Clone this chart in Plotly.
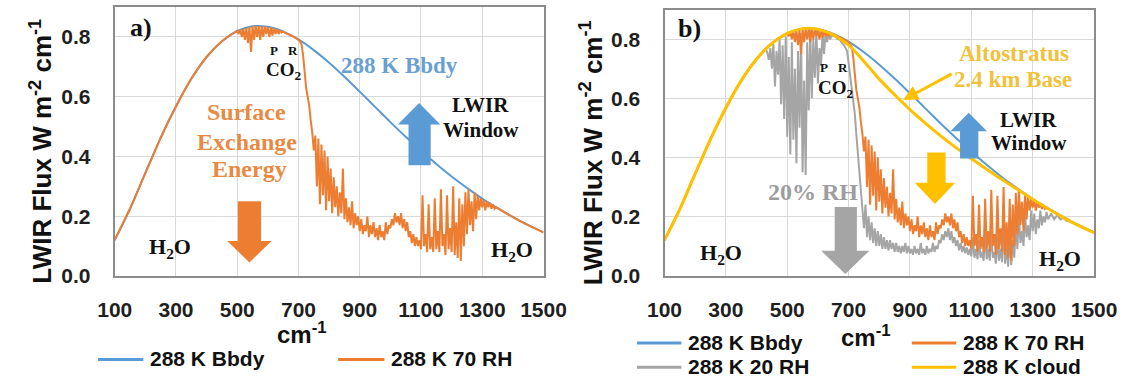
import plotly.graph_objects as go

# ---------------- data ----------------
bbdy_wn = [100, 150, 200, 250, 300, 350, 400, 450, 500, 550, 600, 650, 700, 750, 800,
           850, 900, 950, 1000, 1050, 1100, 1150, 1200, 1250, 1300, 1350, 1400, 1450, 1500]
bbdy_flux = [0.120, 0.225, 0.345, 0.462, 0.568, 0.660, 0.733, 0.786, 0.820, 0.836, 0.834, 0.818,
             0.792, 0.756, 0.714, 0.667, 0.617, 0.566, 0.515, 0.466, 0.420, 0.375, 0.333, 0.295,
             0.259, 0.227, 0.197, 0.170, 0.146]

cloud_wn = bbdy_wn
cloud_flux = [0.120, 0.225, 0.345, 0.462, 0.568, 0.660, 0.733, 0.786, 0.820, 0.836, 0.834, 0.815,
              0.780, 0.725, 0.665, 0.612, 0.562, 0.516, 0.473, 0.433, 0.396, 0.360, 0.325, 0.292,
              0.258, 0.226, 0.196, 0.169, 0.145]

wn_70rh = [
    100, 125, 150, 175, 200, 225, 250, 275, 300, 325,
    350, 375, 400, 425, 450, 475,
    500, 505, 510, 515, 520, 525, 530, 535, 540, 545,
    550, 555, 560, 565, 570, 575, 580, 585, 590, 595,
    600, 605, 610, 615, 620, 625, 630, 635, 640, 645,
    650, 655, 660, 665, 670, 675, 680, 685, 690, 695,
    700, 705, 710, 715, 720, 725, 730, 735, 740, 745,
    750, 755, 760, 765, 770, 775, 780, 785, 790, 795,
    800, 805, 810, 815, 820, 825, 830, 835, 840, 845,
    850, 855, 860, 865, 870, 875, 880, 885, 890, 895,
    900, 905, 910, 915, 920, 925, 930, 935, 940, 945,
    950, 955, 960, 965, 970, 975, 980, 985, 990, 995,
    1000, 1005, 1010, 1015, 1020, 1025, 1030, 1035, 1040, 1045,
    1050, 1055, 1060, 1065, 1070, 1075, 1080, 1085, 1090, 1095,
    1100, 1105, 1110, 1115, 1120, 1125, 1130, 1135, 1140, 1145,
    1150, 1155, 1160, 1165, 1170, 1175, 1180, 1185, 1190, 1195,
    1200, 1205, 1210, 1215, 1220, 1225, 1230, 1235, 1240, 1245,
    1250, 1255, 1260, 1265, 1270, 1275, 1280, 1285, 1290, 1295,
    1300, 1305, 1310, 1315, 1320, 1325, 1330, 1335, 1340, 1345,
    1350, 1375, 1400, 1425, 1450, 1475, 1500]
flux_70rh = [
    0.120, 0.170, 0.225, 0.285, 0.345, 0.404, 0.462, 0.517, 0.568, 0.616,
    0.660, 0.699, 0.733, 0.762, 0.786, 0.805,
    0.820, 0.810, 0.825, 0.800, 0.828, 0.790, 0.830, 0.780, 0.834, 0.750,
    0.836, 0.790, 0.837, 0.800, 0.837, 0.790, 0.836, 0.800, 0.835, 0.810,
    0.834, 0.800, 0.832, 0.805, 0.830, 0.810, 0.826, 0.810, 0.822, 0.815,
    0.818, 0.814, 0.812, 0.810, 0.808, 0.806, 0.803, 0.800, 0.797, 0.794,
    0.790, 0.785, 0.775, 0.740, 0.680, 0.630, 0.600, 0.570, 0.520, 0.480,
    0.420, 0.470, 0.300, 0.460, 0.240, 0.440, 0.270, 0.420, 0.220, 0.400,
    0.250, 0.360, 0.210, 0.330, 0.230, 0.300, 0.200, 0.280, 0.210, 0.360,
    0.190, 0.260, 0.180, 0.230, 0.170, 0.250, 0.160, 0.210, 0.170, 0.200,
    0.150, 0.190, 0.140, 0.170, 0.150, 0.200, 0.130, 0.170, 0.140, 0.180,
    0.130, 0.160, 0.120, 0.170, 0.130, 0.150, 0.120, 0.180, 0.140, 0.170,
    0.160, 0.190, 0.170, 0.210, 0.180, 0.200, 0.170, 0.210, 0.160, 0.190,
    0.150, 0.180, 0.130, 0.150, 0.110, 0.140, 0.100, 0.130, 0.100, 0.120,
    0.090, 0.270, 0.100, 0.140, 0.080, 0.240, 0.090, 0.130, 0.080, 0.260,
    0.090, 0.150, 0.080, 0.290, 0.100, 0.140, 0.070, 0.270, 0.090, 0.160,
    0.080, 0.300, 0.070, 0.180, 0.060, 0.260, 0.050, 0.240, 0.100, 0.280,
    0.140, 0.290, 0.170, 0.250, 0.150, 0.280, 0.190, 0.270, 0.220, 0.260,
    0.230, 0.255, 0.220, 0.250, 0.230, 0.245, 0.225, 0.240, 0.225, 0.230,
    0.227, 0.212, 0.197, 0.183, 0.170, 0.158, 0.146]

wn_20rh = [
    100, 125, 150, 175, 200, 225, 250, 275, 300, 325, 350, 375, 400, 425,
    430, 435, 440, 445, 450, 455, 460, 465, 470, 475,
    480, 485, 490, 495, 500, 505, 510, 515, 520, 525,
    530, 535, 540, 545, 550, 555, 560, 565, 570, 575,
    580, 585, 590, 595, 600, 605, 610, 615, 620, 625,
    630, 635, 640, 645, 650, 655, 660, 665, 670, 675,
    680, 685, 690, 695,
    700, 705, 710, 715, 720, 725, 730, 735, 740, 745,
    750, 755, 760, 765, 770, 775, 780, 785, 790, 795,
    800, 805, 810, 815, 820, 825, 830, 835, 840, 845,
    850, 855, 860, 865, 870, 875, 880, 885, 890, 895,
    900, 905, 910, 915, 920, 925, 930, 935, 940, 945,
    950, 955, 960, 965, 970, 975, 980, 985, 990, 995,
    1000, 1005, 1010, 1015, 1020, 1025, 1030, 1035, 1040, 1045,
    1050, 1055, 1060, 1065, 1070, 1075, 1080, 1085, 1090, 1095,
    1100, 1105, 1110, 1115, 1120, 1125, 1130, 1135, 1140, 1145,
    1150, 1155, 1160, 1165, 1170, 1175, 1180, 1185, 1190, 1195,
    1200, 1205, 1210, 1215, 1220, 1225, 1230, 1235, 1240, 1245,
    1250, 1255, 1260, 1265, 1270, 1275, 1280, 1285, 1290, 1295,
    1300, 1305, 1310, 1315, 1320, 1325, 1330, 1335, 1340, 1345,
    1350, 1360, 1370, 1380, 1390, 1400, 1410, 1420,
    1450, 1475, 1500]
flux_20rh = [
    0.120, 0.170, 0.225, 0.285, 0.345, 0.404, 0.462, 0.517, 0.568, 0.616, 0.660, 0.699, 0.733, 0.762,
    0.767, 0.755, 0.730, 0.770, 0.700, 0.785, 0.640, 0.760, 0.680, 0.800,
    0.580, 0.780, 0.530, 0.810, 0.470, 0.740, 0.410, 0.790, 0.460, 0.700,
    0.380, 0.760, 0.500, 0.820, 0.350, 0.660, 0.340, 0.790, 0.560, 0.830,
    0.600, 0.800, 0.670, 0.830, 0.650, 0.770, 0.710, 0.820, 0.750, 0.825,
    0.790, 0.820, 0.800, 0.815, 0.810, 0.810, 0.805, 0.800, 0.800, 0.790,
    0.785, 0.780, 0.770, 0.760,
    0.720, 0.680, 0.640, 0.600, 0.550, 0.480, 0.420, 0.350, 0.280, 0.220,
    0.160, 0.240, 0.130, 0.200, 0.120, 0.180, 0.110, 0.160, 0.100, 0.150,
    0.100, 0.140, 0.090, 0.130, 0.090, 0.120, 0.085, 0.120, 0.090, 0.110,
    0.080, 0.110, 0.080, 0.100, 0.075, 0.100, 0.080, 0.110, 0.075, 0.100,
    0.075, 0.090, 0.070, 0.100, 0.075, 0.090, 0.070, 0.110, 0.075, 0.090,
    0.070, 0.100, 0.075, 0.090, 0.080, 0.110, 0.080, 0.100, 0.090, 0.120,
    0.110, 0.140, 0.120, 0.150, 0.130, 0.160, 0.120, 0.150, 0.110, 0.130,
    0.100, 0.120, 0.085, 0.110, 0.080, 0.100, 0.075, 0.095, 0.070, 0.090,
    0.065, 0.130, 0.060, 0.090, 0.055, 0.120, 0.060, 0.080, 0.050, 0.140,
    0.055, 0.090, 0.050, 0.150, 0.060, 0.080, 0.040, 0.130, 0.050, 0.090,
    0.045, 0.160, 0.040, 0.100, 0.030, 0.140, 0.035, 0.120, 0.060, 0.180,
    0.090, 0.200, 0.110, 0.150, 0.100, 0.210, 0.130, 0.170, 0.120, 0.220,
    0.150, 0.210, 0.140, 0.190, 0.160, 0.220, 0.170, 0.200, 0.180, 0.215,
    0.190, 0.210, 0.190, 0.205, 0.190, 0.195, 0.185, 0.183,
    0.170, 0.158, 0.146]

x_ticks = [100, 300, 500, 700, 900, 1100, 1300, 1500]
y_ticks = [0.0, 0.2, 0.4, 0.6, 0.8]

assert len(wn_70rh) == len(flux_70rh)
assert len(wn_20rh) == len(flux_20rh)

# ---------------- styling ----------------
W, H = 1146, 390
BLUE, ORANGE, GRAY, YELLOW = "#5b9bd5", "#ed7d31", "#a5a5a5", "#ffc000"
SANS = "Liberation Sans"
SERIF = "Liberation Serif"


def px(x):
    return x / W


def py(y):
    return 1 - y / H


fig = go.Figure()

# panel a
fig.add_trace(go.Scatter(x=bbdy_wn, y=bbdy_flux, mode="lines", line=dict(color=BLUE, width=2, shape="spline"),
                         xaxis="x", yaxis="y", showlegend=False, name="288 K Bbdy"))
fig.add_trace(go.Scatter(x=wn_70rh, y=flux_70rh, mode="lines", line=dict(color=ORANGE, width=2),
                         xaxis="x", yaxis="y", showlegend=False, name="288 K 70 RH"))
# panel b
fig.add_trace(go.Scatter(x=bbdy_wn, y=bbdy_flux, mode="lines", line=dict(color=BLUE, width=2, shape="spline"),
                         xaxis="x2", yaxis="y2", showlegend=False, name="288 K Bbdy"))
fig.add_trace(go.Scatter(x=wn_20rh, y=flux_20rh, mode="lines", line=dict(color=GRAY, width=2),
                         xaxis="x2", yaxis="y2", showlegend=False, name="288 K 20 RH"))
fig.add_trace(go.Scatter(x=wn_70rh, y=flux_70rh, mode="lines", line=dict(color=ORANGE, width=2),
                         xaxis="x2", yaxis="y2", showlegend=False, name="288 K 70 RH"))
fig.add_trace(go.Scatter(x=cloud_wn, y=cloud_flux, mode="lines", line=dict(color=YELLOW, width=3, shape="spline"),
                         xaxis="x2", yaxis="y2", showlegend=False, name="288 K cloud"))

ax_common = dict(showgrid=True, gridcolor="#d9d9d9", gridwidth=1, showline=True, linecolor="#8c8c8c",
                 linewidth=2, mirror=True, zeroline=False, ticks="",
                 tickfont=dict(family=SANS, size=21, color="#1f1f1f", weight="bold"))

fig.update_layout(
    width=W, height=H, margin=dict(l=0, r=0, t=0, b=0),
    paper_bgcolor="white", plot_bgcolor="white", showlegend=False,
    xaxis=dict(domain=[px(100.3), px(545)], range=[100, 1500], tickvals=x_ticks, anchor="y",
               ticklabelstandoff=14, **ax_common),
    yaxis=dict(domain=[py(284), py(7.3)], range=[0, 0.9], tickvals=y_ticks, tickformat=".1f", anchor="x",
               ticklabelstandoff=18, **ax_common),
    xaxis2=dict(domain=[px(670.5), px(1116)], range=[100, 1500], tickvals=x_ticks, anchor="y2",
                ticklabelstandoff=14, **ax_common),
    yaxis2=dict(domain=[py(283.5), py(10)], range=[0, 0.9], tickvals=y_ticks, tickformat=".1f", anchor="x2",
                ticklabelstandoff=18, **ax_common),
)

ann = []


def txt(x, y, text, size, color="#111111", family=SERIF, **kw):
    d = dict(x=px(x), y=py(y), xref="paper", yref="paper", text=text, showarrow=False,
             font=dict(family=family, size=size, color=color), xanchor="center", yanchor="middle")
    d.update(kw)
    ann.append(d)


# axis titles
ytitle = "<b>LWIR Flux W m<sup>-2</sup> cm<sup>-1</sup></b>"
txt(24, 156, ytitle, 26, "#111111", SANS, textangle=-90)
txt(595, 157, ytitle, 26, "#111111", SANS, textangle=-90)
txt(295, 343, "<b>cm<sup>-1</sup></b>", 24, "#111111", SANS)
txt(879, 346, "<b>cm<sup>-1</sup></b>", 24, "#111111", SANS)

# panel a texts
txt(128, 28, "<b>a)</b>", 26)
txt(265, 52, "<b>P</b>", 13)
txt(285, 52, "<b>R</b>", 13)
txt(276, 73, "<b>CO<sub>2</sub></b>", 19)
txt(396, 67, "<b>288 K Bbdy</b>", 23, "#6a9fd4")
txt(480, 108, "<b>LWIR</b>", 21)
txt(480, 134, "<b>Window</b>", 21)
txt(237, 115, "<b>Surface</b>", 24, "#e98a44")
txt(237, 146, "<b>Exchange</b>", 24, "#e98a44")
txt(240, 174, "<b>Energy</b>", 24, "#e98a44")
txt(158, 255, "<b>H<sub>2</sub>O</b>", 22)
txt(512, 258, "<b>H<sub>2</sub>O</b>", 22)

# panel b texts
txt(696, 29, "<b>b)</b>", 26)
txt(836, 69, "<b>P</b>", 13)
txt(856, 69, "<b>R</b>", 13)
txt(848, 92, "<b>CO<sub>2</sub></b>", 19)
txt(824, 198, "<b>20% RH</b>", 24, "#9d9d9d")
txt(1033, 55, "<b>Altostratus</b>", 23, "#f2c13c")
txt(1032, 82, "<b>2.4 km Base</b>", 23, "#f2c13c")
txt(1048, 123, "<b>LWIR</b>", 21)
txt(1048, 147, "<b>Window</b>", 21)
txt(729, 261, "<b>H<sub>2</sub>O</b>", 22)
txt(1081, 268, "<b>H<sub>2</sub>O</b>", 22)

# pointer arrow to cloud curve
ann.append(dict(x=px(918), y=py(103), xref="paper", yref="paper", ax=50, ay=-27, axref="pixel", ayref="pixel",
                text="", showarrow=True, arrowhead=2, arrowsize=1, arrowwidth=3, arrowcolor=YELLOW, standoff=0))

# legends (manual)
legend_items = [
    (83, 130, 370, "288 K Bbdy", BLUE),
    (332, 380, 370, "288 K 70 RH", ORANGE),
    (642, 688, 353, "288 K Bbdy", BLUE),
    (642, 688, 378, "288 K 20 RH", GRAY),
    (927, 973, 353, "288 K 70 RH", ORANGE),
    (927, 973, 378, "288 K cloud", YELLOW),
]
shapes = []
for x0, x1, yy, label, col in legend_items:
    shapes.append(dict(type="line", xref="paper", yref="paper", x0=px(x0), x1=px(x1), y0=py(yy), y1=py(yy),
                       line=dict(color=col, width=3)))
    txt(x1 + 5, yy - 1, "<b>" + label + "</b>", 21, "#111111", SANS, xanchor="left")


def block_arrow(sx0, sx1, hx0, hx1, y_tail, y_base, y_tip, color):
    cx = (hx0 + hx1) / 2
    pts = [(sx0, y_tail), (sx0, y_base), (hx0, y_base), (cx, y_tip), (hx1, y_base), (sx1, y_base), (sx1, y_tail)]
    path = "M " + " L ".join(f"{px(a):.5f},{py(b):.5f}" for a, b in pts) + " Z"
    shapes.append(dict(type="path", xref="paper", yref="paper", path=path, fillcolor=color, line=dict(width=0)))


block_arrow(405, 428, 394, 438, 170, 128, 106, BLUE)      # a: LWIR window up
block_arrow(228, 252, 217, 263, 207, 248, 270, ORANGE)    # a: surface exchange down
block_arrow(847, 870, 833, 883, 213, 258, 282, GRAY)      # b: 20% RH down
block_arrow(977, 996, 967, 1005, 163, 135, 116, BLUE)     # b: LWIR window up
block_arrow(943, 962, 930, 972, 157, 188, 210, YELLOW)    # b: cloud down

fig.update_layout(annotations=ann, shapes=shapes)
fig.write_html("out.html")
